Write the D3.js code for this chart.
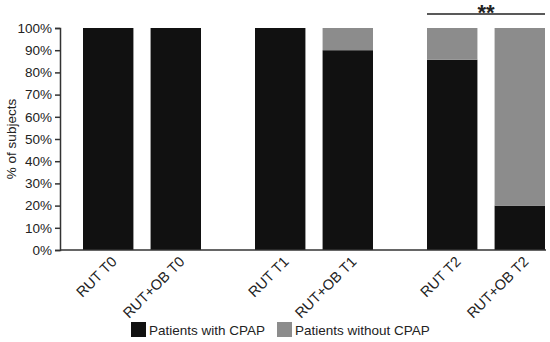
<!DOCTYPE html>
<html>
<head>
<meta charset="utf-8">
<script src="https://cdn.jsdelivr.net/npm/d3@7"></script>
<style>
  body { margin: 0; background: #fff; }
  text { font-family: "Liberation Sans", Arial, sans-serif; fill: #222; }
</style>
</head>
<body>
<div id="container"></div>
<script>
const width = 550;
const height = 342;

// Groups (time points) and arms
const groups = ["T0", "T1", "T2"];
const arms = ["RUT", "RUT+OB"];
const labels = ["RUT T0", "RUT+OB T0", "RUT T1", "RUT+OB T1", "RUT T2", "RUT+OB T2"];
// % of patients with CPAP, per bar (same order as labels)
const withCpap = [100, 100, 100, 90, 85.7, 20];
const yTicks = [0, 10, 20, 30, 40, 50, 60, 70, 80, 90, 100];
const seriesNames = ["Patients with CPAP", "Patients without CPAP"];
const colours = ["#111111", "#8c8c8c"];

const data = labels.map((l, i) => ({
  label: l,
  group: groups[Math.floor(i / 2)],
  arm: arms[i % 2],
  yes: withCpap[i],
  no: 100 - withCpap[i],
}));

const svg = d3.select("#container").append("svg")
  .attr("width", width)
  .attr("height", height);

// outer band for the time points, inner band for the two arms
const x0 = d3.scaleBand().domain(groups).range([83, 545]).paddingInner(0.314).paddingOuter(0);
const x1 = d3.scaleBand().domain(arms).range([0, x0.bandwidth()]).paddingInner(0.254).paddingOuter(0);
const y = d3.scaleLinear().domain([0, 100]).range([250, 28]);

const stack = d3.stack().keys(["yes", "no"])(data);

svg.append("g")
  .selectAll("g")
  .data(stack)
  .enter()
  .append("g")
  .attr("fill", (d, i) => colours[i])
  .selectAll("rect")
  .data((d) => d)
  .enter()
  .append("rect")
  .attr("x", (d) => x0(d.data.group) + x1(d.data.arm))
  .attr("width", x1.bandwidth())
  .attr("y", (d) => y(d[1]))
  .attr("height", (d) => y(d[0]) - y(d[1]));

// Y axis
const yAxis = svg.append("g")
  .attr("transform", "translate(60,0)")
  .call(d3.axisLeft(y).tickValues(yTicks).tickSize(5).tickPadding(3).tickFormat((d) => d + "%"));
yAxis.select(".domain").attr("stroke", "#333").attr("stroke-width", 1.5);
yAxis.selectAll(".tick line").attr("stroke", "#333").attr("stroke-width", 1.5);
yAxis.selectAll(".tick text").style("font-size", "13.5px").attr("fill", "#222");

// X baseline
svg.append("line")
  .attr("x1", 60).attr("x2", 546)
  .attr("y1", y(0)).attr("y2", y(0))
  .attr("stroke", "#333").attr("stroke-width", 1.5);

// X labels, rotated
svg.append("g")
  .selectAll("text")
  .data(data)
  .enter()
  .append("text")
  .attr("transform", (d) => {
    const cx = x0(d.group) + x1(d.arm) + x1.bandwidth() / 2 + 6;
    return `translate(${cx},${y(0) + 9}) rotate(-45)`;
  })
  .attr("text-anchor", "end")
  .attr("dy", "0.35em")
  .style("font-size", "14.5px")
  .text((d) => d.label);

// Y axis title
svg.append("text")
  .attr("transform", `translate(16,${(y(0) + y(100)) / 2}) rotate(-90)`)
  .attr("text-anchor", "middle")
  .style("font-size", "13.5px")
  .text("% of subjects");

// significance bar over T2
const sigX1 = x0("T2");
const sigX2 = x0("T2") + x0.bandwidth();
svg.append("line")
  .attr("x1", sigX1).attr("x2", sigX2)
  .attr("y1", 14).attr("y2", 14)
  .attr("stroke", "#222").attr("stroke-width", 1.5);
svg.append("text")
  .attr("x", (sigX1 + sigX2) / 2)
  .attr("y", 20)
  .attr("text-anchor", "middle")
  .style("font-size", "22px")
  .style("font-weight", "bold")
  .text("**");

// Legend
const legendX = [131, 277];
const legend = svg.append("g")
  .selectAll("g")
  .data(seriesNames)
  .enter()
  .append("g")
  .attr("transform", (d, i) => `translate(${legendX[i]},322)`);
legend.append("rect")
  .attr("width", 15).attr("height", 15)
  .attr("fill", (d, i) => colours[i]);
legend.append("text")
  .attr("x", 18).attr("y", 12.5)
  .style("font-size", "13.5px")
  .text((d) => d);
</script>
</body>
</html>
